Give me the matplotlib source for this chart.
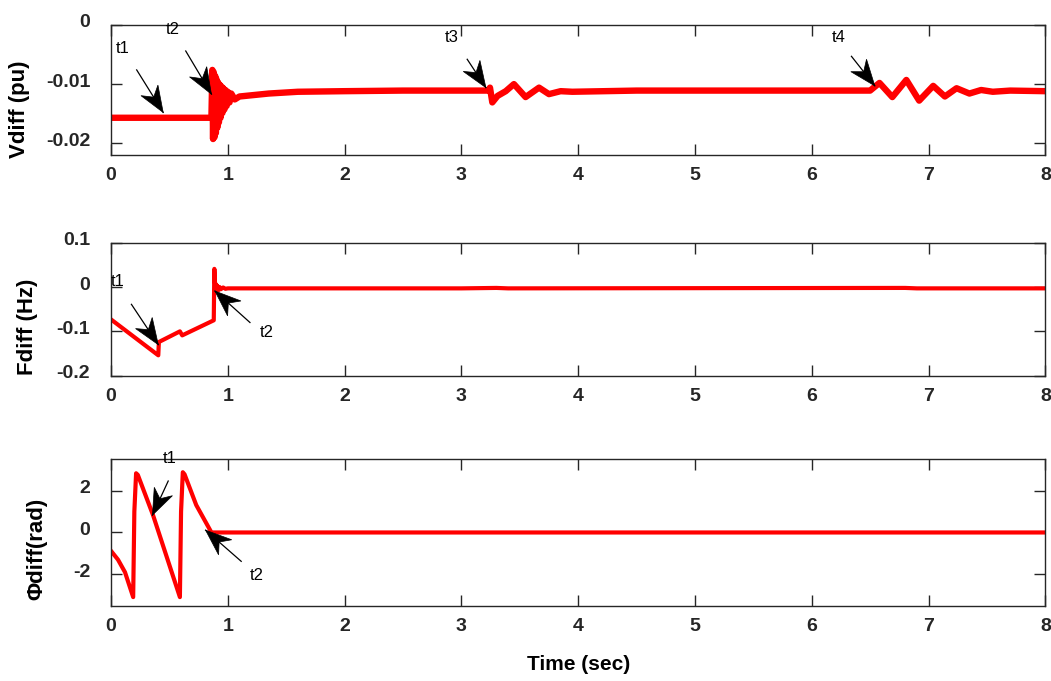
import numpy as np
import matplotlib.pyplot as plt
import matplotlib.transforms as mtransforms
from matplotlib.patches import Polygon

plt.rcParams['font.family'] = ['Liberation Sans', 'DejaVu Sans']
plt.rcParams['axes.unicode_minus'] = False

# Vdiff (pu)
t_v = [0, 0.3, 0.6, 0.86, 0.868, 0.874, 0.880, 0.886, 0.892, 0.898, 0.904, 0.910,
       0.917, 0.924, 0.931, 0.938, 0.946, 0.954, 0.962, 0.971, 0.980, 0.990, 1.0,
       1.015, 1.03, 1.06, 1.1, 1.2, 1.35, 1.6, 2.0, 2.5, 3.0, 3.23, 3.245, 3.265,
       3.31, 3.38, 3.45, 3.55, 3.665, 3.75, 3.85, 3.95, 4.5, 5.0, 5.5, 6.0, 6.5,
       6.58, 6.69, 6.81, 6.92, 7.04, 7.14, 7.24, 7.35, 7.45, 7.55, 7.7, 8.0]
vdiff = [-0.0157, -0.0157, -0.0157, -0.0157, -0.0076, -0.0193, -0.0080, -0.0190,
         -0.0086, -0.0183, -0.0092, -0.0174, -0.0097, -0.0165, -0.0101, -0.0157,
         -0.0104, -0.0149, -0.0107, -0.0143, -0.0110, -0.0137, -0.0113, -0.0131,
         -0.0116, -0.0126, -0.0121, -0.0119, -0.0116, -0.0113, -0.0112, -0.0111,
         -0.0111, -0.0111, -0.0106, -0.0131, -0.0120, -0.0112, -0.0100, -0.0122,
         -0.0106, -0.0117, -0.0112, -0.0113, -0.0111, -0.0111, -0.0111, -0.0111,
         -0.0111, -0.0098, -0.0122, -0.0093, -0.0128, -0.0103, -0.0121, -0.0107,
         -0.0116, -0.0110, -0.0113, -0.0111, -0.0112]

# Fdiff (Hz)
t_f = [0, 0.405, 0.41, 0.59, 0.61, 0.88, 0.885, 0.89, 0.895, 0.90, 0.905, 0.91,
       0.92, 0.93, 0.94, 0.96, 0.98, 1.0, 1.2, 3.0, 3.3, 3.4, 6.8, 6.9, 8.0]
fdiff = [-0.073, -0.154, -0.124, -0.100, -0.109, -0.075, 0.041, 0.012, -0.010,
         0.006, -0.009, 0.003, -0.007, 0.000, -0.005, -0.001, -0.004, -0.003,
         -0.003, -0.003, -0.002, -0.003, -0.002, -0.003, -0.003]

# Phidiff (rad)
t_p = [0, 0.06, 0.12, 0.19, 0.2, 0.215, 0.23, 0.36, 0.59, 0.6, 0.615, 0.63,
       0.73, 0.86, 1.0, 8.0]
phidiff = [-0.88, -1.3, -1.9, -3.09, 1.0, 2.83, 2.75, 0.83, -3.09, 1.0, 2.88,
           2.78, 1.31, 0.0, 0.0, 0.0]

# annotation label, tip, tail, text position (data coords)
notes_v = [('t1', (0.447, -0.0148), (0.22, -0.0076), (0.10, -0.0040)),
           ('t2', (0.86, -0.0117), (0.64, -0.0044), (0.53, -0.0008)),
           ('t3', (3.21, -0.0106), (3.05, -0.0058), (2.92, -0.0022)),
           ('t4', (6.54, -0.0103), (6.34, -0.0053), (6.23, -0.0022))]
notes_f = [('t1', (0.405, -0.130), (0.175, -0.039), (0.06, 0.012)),
           ('t2', (0.89, -0.009), (1.19, -0.080), (1.33, -0.103))]
notes_p = [('t1', (0.355, 0.83), (0.49, 2.46), (0.50, 3.55)),
           ('t2', (0.81, 0.11), (1.115, -1.38), (1.25, -2.05))]

fig = plt.figure(figsize=(10.51, 6.81), dpi=100)
ax1 = fig.add_axes([0.1056, 0.7724, 0.8890, 0.1909])
ax2 = fig.add_axes([0.1056, 0.4483, 0.8890, 0.1953])
ax3 = fig.add_axes([0.1056, 0.1106, 0.8890, 0.2150])

ax1.plot(t_v, vdiff, color='red', lw=4.6)
ax2.plot(t_f, fdiff, color='red', lw=3)
ax3.plot(t_p, phidiff, color='red', lw=3)

ax1.set_ylim(-0.022, 0)
ax1.set_yticks([-0.02, -0.01, 0])
ax1.set_yticklabels(['-0.02', '-0.01', '0'])
ax2.set_ylim(-0.2, 0.1)
ax2.set_yticks([-0.2, -0.1, 0, 0.1])
ax2.set_yticklabels(['-0.2', '-0.1', '0', '0.1'])
ax3.set_ylim(-3.5, 3.5)
ax3.set_yticks([-2, 0, 2])
ax3.set_yticklabels(['-2', '0', '2'])

ylabels = ['Vdiff (pu)', 'Fdiff (Hz)', 'Φdiff(rad)']
label_x = [-0.0864, -0.0776, -0.0686]
label_y = [0.354, 0.368, 0.387]
offset = mtransforms.ScaledTranslation(0, 4 / 100, fig.dpi_scale_trans)

for i, ax in enumerate([ax1, ax2, ax3]):
    ax.set_xlim(0, 8)
    ax.set_xticks(range(9))
    ax.tick_params(direction='in', length=8, width=1, top=True, right=True,
                   labelsize=14, colors='#262626')
    ax.tick_params(axis='x', pad=9)
    ax.tick_params(axis='y', pad=15)
    for lab in ax.get_xticklabels() + ax.get_yticklabels():
        lab.set_fontweight('bold')
    for lab in ax.get_yticklabels():
        lab.set_transform(lab.get_transform() + offset)
    for sp in ax.spines.values():
        sp.set_color('#262626')
        sp.set_linewidth(1.0)
    ax.set_ylabel(ylabels[i], fontsize=16, fontweight='bold')
    ax.yaxis.set_label_coords(label_x[i], label_y[i])

ax3.set_xlabel('Time (sec)', fontsize=15, fontweight='bold', labelpad=14)


def vback_arrow(ax, tip, tail, head_len=26, half_w=10, notch=8):
    # thin shaft + notched arrow head, built in pixel space
    p_tip = ax.transData.transform(tip)
    p_tail = ax.transData.transform(tail)
    d = p_tip - p_tail
    d = d / np.hypot(d[0], d[1])
    n = np.array([-d[1], d[0]])
    base = p_tip - d * head_len
    pts = [p_tip, base + n * half_w, base + d * notch, base - n * half_w]
    ax.plot([tail[0], tip[0]], [tail[1], tip[1]], color='black', lw=0.9)
    fig.patches.append(Polygon(pts, closed=True, facecolor='black',
                               edgecolor='black', lw=0.5, transform=None,
                               figure=fig))


for ax, notes in [(ax1, notes_v), (ax2, notes_f), (ax3, notes_p)]:
    for name, tip, tail, pos in notes:
        vback_arrow(ax, tip, tail)
        ax.text(pos[0], pos[1], name, fontsize=12,
                ha='center', va='center', clip_on=False)

fig.savefig('out.png', dpi=100)
